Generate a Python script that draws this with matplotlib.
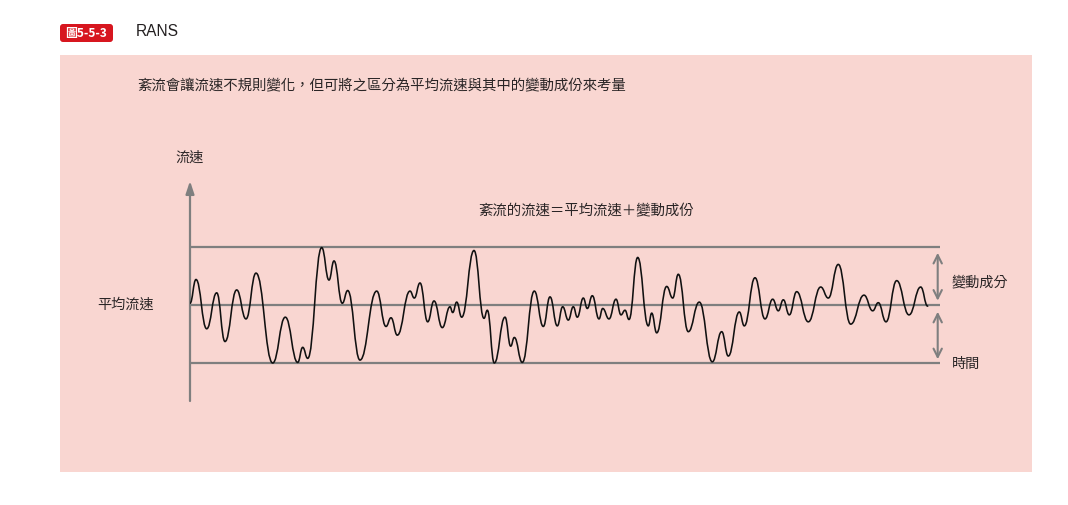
import matplotlib
matplotlib.use("Agg")
import matplotlib.pyplot as plt
from matplotlib.path import Path
from matplotlib.patches import PathPatch, Rectangle, FancyBboxPatch

# ---- data ----
# local extrema of turbulent velocity: time (arbitrary units) and deviation from mean (-1..1)
times = [0, 6, 16.7, 26.7, 35, 46.7, 56, 66, 82.7, 95.3, 107.7, 112.7, 117.7, 131.7, 139, 144,
         152.3, 157.7, 170, 186.7, 196, 201, 207.3, 220, 224.3, 230, 237.7, 244, 252.3, 260,
         262.7, 266.7, 271.7, 284, 294, 297.3, 304.3, 315, 320.7, 324.3, 332.3, 344.3, 353.3,
         360, 367.3, 372.7, 378.3, 383.3, 387.3, 393.3, 397.3, 402.3, 409, 412.7, 419, 426,
         431, 435, 439, 447.7, 458.3, 461.7, 466.7, 476.7, 482.7, 488.3, 498.3, 509.3, 522.3,
         531.7, 538.3, 549.3, 554.3, 565, 575, 582.7, 588.3, 593.3, 599.3, 606.7, 618.3, 630.7,
         638.3, 648.3, 660.7, 674, 682.7, 688.3, 696, 706.7, 719, 730.7, 737.7]
velocity = [0.03, 0.44, -0.41, 0.21, -0.63, 0.26, -0.24, 0.55, -1.0, -0.21, -0.99, -0.73, -0.92,
            0.99, 0.43, 0.76, 0.03, 0.25, -0.95, 0.24, -0.37, -0.22, -0.52, 0.24, 0.12, 0.38,
            -0.29, 0.07, -0.39, -0.03, -0.13, 0.05, -0.21, 0.94, -0.23, -0.09, -1.0, -0.21,
            -0.71, -0.56, -0.99, 0.24, -0.37, 0.14, -0.36, -0.03, -0.26, -0.03, -0.21, 0.12,
            -0.06, 0.16, -0.24, -0.06, -0.24, 0.10, -0.17, -0.09, -0.25, 0.82, -0.36, -0.14,
            -0.48, 0.32, 0.12, 0.53, -0.46, 0.05, -0.98, -0.46, -0.88, -0.12, -0.36, 0.47,
            -0.24, 0.10, -0.10, 0.09, -0.17, 0.23, -0.29, 0.31, 0.12, 0.70, -0.33, 0.17, -0.10,
            0.04, -0.29, 0.42, -0.17, 0.31, -0.02]
mean_level = 0.0
fluct_levels = [1.0, -1.0]
t_end = 750

badge_text = "圖5-5-3"
title_text = "RANS"
caption = "紊流會讓流速不規則變化，但可將之區分為平均流速與其中的變動成份來考量"
formula = "紊流的流速＝平均流速＋變動成份"
ylabel = "流速"
mean_label = "平均流速"
fluct_label = "變動成分"
time_label = "時間"

CJK = ["Noto Sans CJK TC", "DejaVu Sans"]
W, H = 1068, 505
fig = plt.figure(figsize=(W / 100, H / 100), dpi=100)
fig.patch.set_facecolor("white")

# canvas axes in pixel coordinates for the frame decorations
cv = fig.add_axes([0, 0, 1, 1])
cv.set_xlim(0, W)
cv.set_ylim(H, 0)
cv.axis("off")
cv.add_patch(Rectangle((60, 55), 972, 417, facecolor="#f9d6d1", edgecolor="none"))
cv.add_patch(FancyBboxPatch((60, 24), 53, 18, boxstyle="round,pad=0,rounding_size=3",
                            facecolor="#d7161f", edgecolor="none"))
cv.text(86.5, 33, badge_text, color="white", fontsize=8.6, fontweight="bold",
        ha="center", va="center", family=CJK)
cv.text(136, 31.5, title_text, color="#231f20", fontsize=11.2, ha="left", va="center",
        family=["Liberation Sans", "DejaVu Sans"])
txt = "#2a2526"
cv.text(137, 86, caption, color=txt, fontsize=10.4, ha="left", va="center", family=CJK)
cv.text(478, 211, formula, color=txt, fontsize=10.4, ha="left", va="center", family=CJK)
cv.text(175, 158, ylabel, color=txt, fontsize=10.2, ha="left", va="center", family=CJK)
cv.text(97, 305, mean_label, color=txt, fontsize=10.2, ha="left", va="center", family=CJK)
cv.text(952, 282, fluct_label, color=txt, fontsize=10.2, ha="left", va="center", family=CJK)
cv.text(952, 364, time_label, color=txt, fontsize=10.2, ha="left", va="center", family=CJK)

# data axes: t 0..750 -> px 190..940 ; v: 1 unit = 58 px, mean at py 305
px_left, px_right, py_top, py_bot = 190, 940, 181, 401
v_top = (305 - py_top) / 58.0
v_bot = (305 - py_bot) / 58.0
ax = fig.add_axes([px_left / W, (H - py_bot) / H, (px_right - px_left) / W, (py_bot - py_top) / H])
ax.set_xlim(0, t_end)
ax.set_ylim(v_bot, v_top)
ax.axis("off")
ax.patch.set_alpha(0)

gray = "#7f7f7f"
ax.hlines([fluct_levels[0], mean_level, fluct_levels[1]], 0, t_end, colors=gray, lw=1.6, zorder=2)
ax.annotate("", xy=(0, v_top), xytext=(0, v_bot),
            arrowprops=dict(arrowstyle="-|>,head_length=0.75,head_width=0.25", color=gray, lw=1.6,
                            shrinkA=0, shrinkB=0))
xa = 747.7
for y0, y1 in [(0.074, 0.90), (-0.936, -0.116)]:
    ax.annotate("", xy=(xa, y1), xytext=(xa, y0),
                arrowprops=dict(arrowstyle="<->,head_length=0.6,head_width=0.3", color=gray,
                                lw=1.5, shrinkA=0, shrinkB=0))

# smooth curve through extrema using cubic Bezier segments with horizontal tangents
verts = [(times[0], velocity[0])]
codes = [Path.MOVETO]
for i in range(1, len(times)):
    x0, y0 = times[i - 1], velocity[i - 1]
    x1, y1 = times[i], velocity[i]
    d = (x1 - x0) * 0.45
    verts += [(x0 + d, y0), (x1 - d, y1), (x1, y1)]
    codes += [Path.CURVE4] * 3
ax.add_patch(PathPatch(Path(verts, codes), facecolor="none", edgecolor="#111111", lw=1.15,
                       zorder=3, capstyle="round", joinstyle="round"))

fig.savefig("out.png", dpi=100, facecolor="white")
